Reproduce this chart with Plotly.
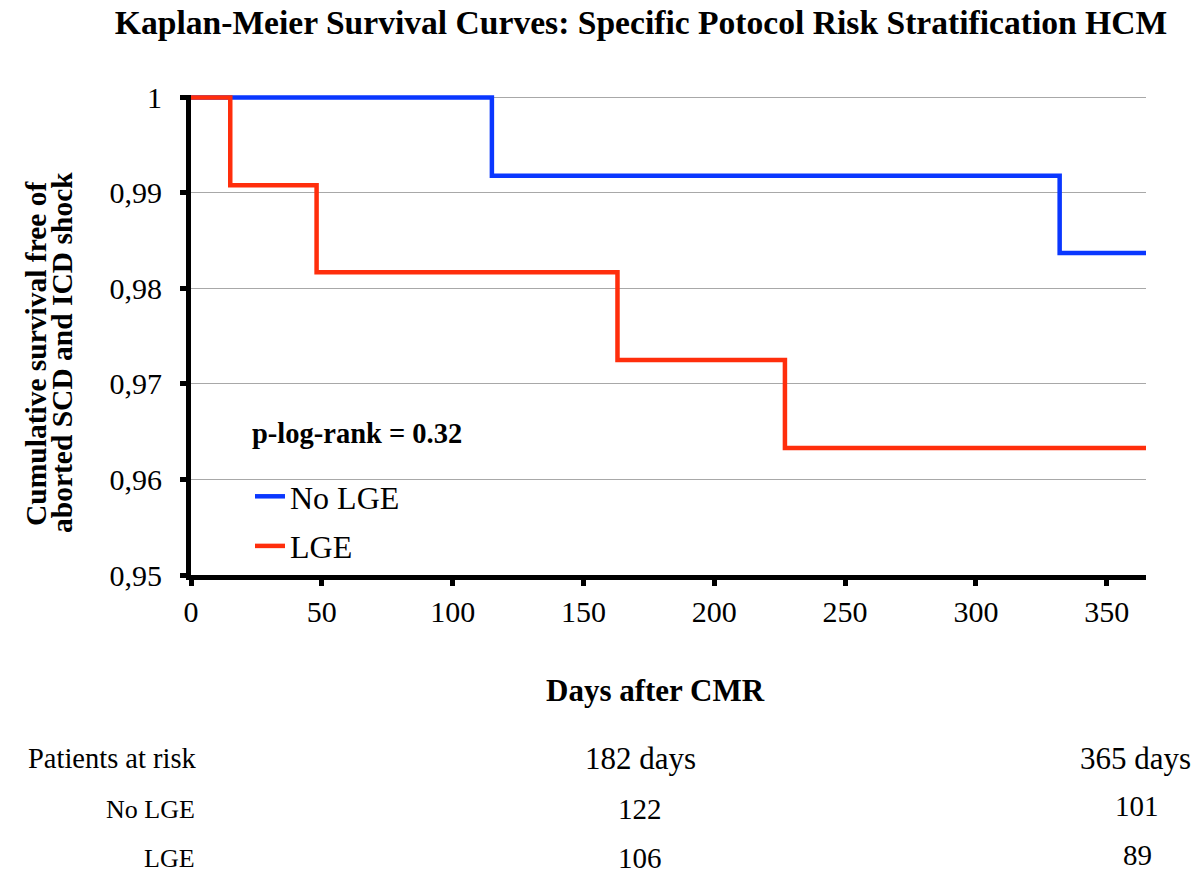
import plotly.graph_objects as go

# Data
days_no_lge = [0, 115, 332, 365]
surv_no_lge = [1.0, 0.9918, 0.9837, 0.9837]
days_lge = [0, 15, 48, 163, 227, 365]
surv_lge = [1.0, 0.9908, 0.9817, 0.9725, 0.9633, 0.9633]

ytick_vals = [0.95, 0.96, 0.97, 0.98, 0.99, 1.0]
ytick_text = ["0,95", "0,96", "0,97", "0,98", "0,99", "1"]
xtick_vals = [0, 50, 100, 150, 200, 250, 300, 350]

risk_groups = ["No LGE", "LGE"]
risk_times = ["182 days", "365 days"]
risk_182 = [122, 106]
risk_365 = [101, 89]

BLUE = "#0A37FF"
RED = "#FF2E0C"
FONT = "Liberation Serif"

fig = go.Figure()
fig.add_trace(go.Scatter(x=days_no_lge, y=surv_no_lge, mode="lines", line_shape="hv",
                         line=dict(color=BLUE, width=4.5), name="No LGE", legendgroup="a"))
fig.add_trace(go.Scatter(x=days_lge, y=surv_lge, mode="lines", line_shape="hv",
                         line=dict(color=RED, width=4.5), name="LGE", legendgroup="b"))

W, H = 1200, 877
L, R, T, B = 191, 54, 95, 302
pw, ph = W - L - R, H - T - B

def px(x):
    return (x - L) / pw

def py(y):
    return (H - B - y) / ph

fig.update_layout(
    width=W, height=H,
    margin=dict(l=L, r=R, t=T, b=B, autoexpand=False),
    plot_bgcolor="white", paper_bgcolor="white",
    font=dict(family=FONT, color="black", size=22),
    showlegend=True,
    legend=dict(x=px(250), y=py(469), xanchor="left", yanchor="top",
                font=dict(family=FONT, size=32), bgcolor="rgba(0,0,0,0)",
                tracegroupgap=5, itemwidth=30),
    title=dict(text="<b>Kaplan-Meier Survival Curves: Specific Potocol Risk Stratification HCM</b>",
               xref="container", x=641 / W, xanchor="center", y=1 - 22 / H, yanchor="middle",
               font=dict(family=FONT, size=33.6)),
)

fig.update_xaxes(range=[0, 365], tickvals=xtick_vals, showgrid=False, zeroline=False,
                 showline=True, linecolor="black", linewidth=5,
                 ticks="outside", ticklen=6, tickwidth=5, tickcolor="black",
                 tickfont=dict(family=FONT, size=30))
fig.update_yaxes(range=[0.95, 1.00025], tickvals=ytick_vals, ticktext=ytick_text,
                 showgrid=True, gridcolor="#A8A8A8", gridwidth=1.3, zeroline=False,
                 showline=True, linecolor="black", linewidth=5,
                 ticks="outside", ticklen=6, tickwidth=5, tickcolor="black",
                 ticklabelstandoff=12,
                 tickfont=dict(family=FONT, size=30))

ann = []
ann.append(dict(text="<b>Cumulative survival free of</b>",
                x=px(36), y=py(353), xref="paper", yref="paper", textangle=-90,
                showarrow=False, xanchor="center", yanchor="middle",
                font=dict(family=FONT, size=29.5)))
ann.append(dict(text="<b>aborted SCD and ICD shock</b>",
                x=px(62), y=py(353), xref="paper", yref="paper", textangle=-90,
                showarrow=False, xanchor="center", yanchor="middle",
                font=dict(family=FONT, size=29.5)))
ann.append(dict(text="<b>Days after CMR</b>", x=px(655), y=py(690), xref="paper", yref="paper",
                showarrow=False, xanchor="center", yanchor="middle",
                font=dict(family=FONT, size=31)))
ann.append(dict(text="<b>p-log-rank = 0.32</b>", x=px(250), y=py(433), xref="paper", yref="paper",
                showarrow=False, xanchor="left", yanchor="middle",
                font=dict(family=FONT, size=28.5)))
# risk table
ann.append(dict(text="Patients at risk", x=px(199), y=py(758), xref="paper", yref="paper",
                showarrow=False, xanchor="right", yanchor="middle", font=dict(family=FONT, size=28.5)))
ann.append(dict(text=risk_times[0], x=px(640), y=py(758), xref="paper", yref="paper",
                showarrow=False, xanchor="center", yanchor="middle", font=dict(family=FONT, size=31)))
ann.append(dict(text=risk_times[1], x=px(1193), y=py(758), xref="paper", yref="paper",
                showarrow=False, xanchor="right", yanchor="middle", font=dict(family=FONT, size=31)))
row_y = [809, 858]
for g, a, b, yy in zip(risk_groups, risk_182, risk_365, row_y):
    ann.append(dict(text=g, x=px(197), y=py(yy), xref="paper", yref="paper",
                    showarrow=False, xanchor="right", yanchor="middle", font=dict(family=FONT, size=26)))
    ann.append(dict(text=str(a), x=px(640), y=py(yy), xref="paper", yref="paper",
                    showarrow=False, xanchor="center", yanchor="middle", font=dict(family=FONT, size=29)))
    ann.append(dict(text=str(b), x=px(1137), y=py(yy - 3), xref="paper", yref="paper",
                    showarrow=False, xanchor="center", yanchor="middle", font=dict(family=FONT, size=29)))
fig.update_layout(annotations=ann)

fig.write_html("out.html", config={"displayModeBar": False},
               post_script="document.body.style.margin='0';document.body.style.overflow='hidden';")
